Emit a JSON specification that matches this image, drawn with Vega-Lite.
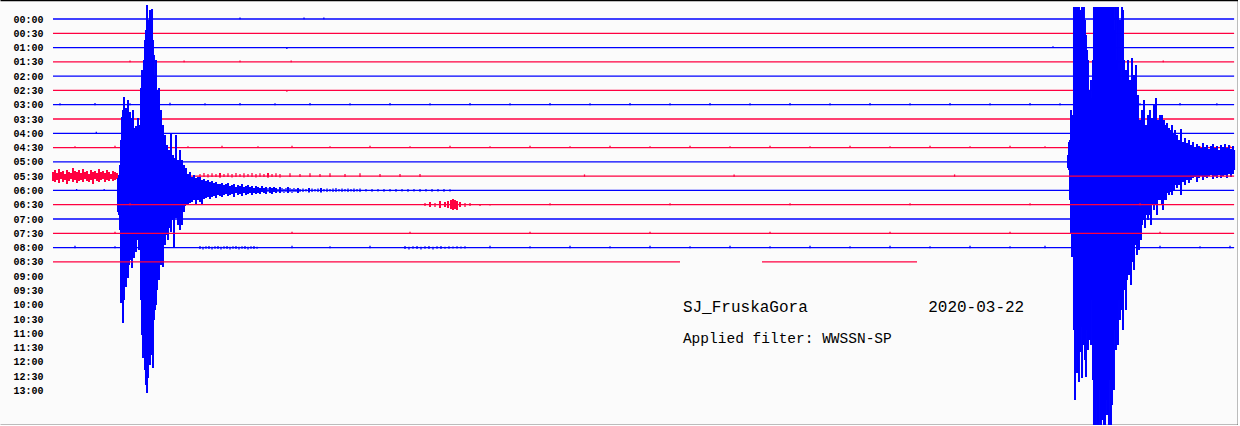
{
"$schema":"https://vega.github.io/schema/vega-lite/v6.json",
"width":1238,"height":425,"padding":0,"autosize":{"type":"none"},
"background":"#fbfbfb",
"config":{"view":{"stroke":null}},
"layer":[
{"data":{"values":[
{"row":0,"t":0,"t2":30,"v":0,"v2":0},
{"row":0,"t":4.75,"t2":4.75,"v":-0.1,"v2":0.02},
{"row":0,"t":6.376,"t2":6.376,"v":-0.1,"v2":0.02},
{"row":0,"t":6.88,"t2":6.88,"v":-0.1,"v2":0.02},
{"row":1,"t":0,"t2":30,"v":1,"v2":1},
{"row":2,"t":0,"t2":30,"v":2,"v2":2},
{"row":2,"t":5.94,"t2":5.94,"v":2,"v2":2.1},
{"row":2,"t":25.4,"t2":25.4,"v":1.9,"v2":2.02},
{"row":3,"t":0,"t2":30,"v":3,"v2":3},
{"row":3,"t":1.956,"t2":1.956,"v":2.9,"v2":3.02},
{"row":3,"t":3.33,"t2":3.33,"v":2.9,"v2":3.02},
{"row":3,"t":4.75,"t2":4.75,"v":2.9,"v2":3.02},
{"row":3,"t":6.05,"t2":6.05,"v":2.9,"v2":3.02},
{"row":3,"t":28.2,"t2":28.2,"v":2.9,"v2":3.02},
{"row":4,"t":0,"t2":30,"v":4,"v2":4},
{"row":5,"t":0,"t2":30,"v":5,"v2":5},
{"row":5,"t":5.94,"t2":5.94,"v":5,"v2":5.1},
{"row":6,"t":0,"t2":30,"v":6,"v2":6},
{"row":6,"t":0.178,"t2":0.178,"v":5.9,"v2":6.04},
{"row":6,"t":1.067,"t2":1.067,"v":5.88,"v2":6.03},
{"row":6,"t":1.956,"t2":1.956,"v":5.9,"v2":6.04},
{"row":6,"t":2.972,"t2":2.972,"v":5.87,"v2":6.03},
{"row":6,"t":3.861,"t2":3.861,"v":5.9,"v2":6.04},
{"row":6,"t":4.75,"t2":4.75,"v":5.88,"v2":6.03},
{"row":6,"t":5.639,"t2":5.639,"v":5.9,"v2":6.04},
{"row":6,"t":6.528,"t2":6.528,"v":5.88,"v2":6.03},
{"row":6,"t":7.544,"t2":7.544,"v":5.9,"v2":6.04},
{"row":6,"t":8.56,"t2":8.56,"v":5.88,"v2":6.03},
{"row":6,"t":9.576,"t2":9.576,"v":5.9,"v2":6.04},
{"row":6,"t":10.592,"t2":10.592,"v":5.88,"v2":6.03},
{"row":6,"t":11.608,"t2":11.608,"v":5.9,"v2":6.04},
{"row":6,"t":12.624,"t2":12.624,"v":5.88,"v2":6.03},
{"row":6,"t":13.64,"t2":13.64,"v":5.9,"v2":6.04},
{"row":6,"t":14.656,"t2":14.656,"v":5.88,"v2":6.03},
{"row":6,"t":15.672,"t2":15.672,"v":5.9,"v2":6.04},
{"row":6,"t":16.688,"t2":16.688,"v":5.88,"v2":6.03},
{"row":6,"t":17.704,"t2":17.704,"v":5.9,"v2":6.04},
{"row":6,"t":18.72,"t2":18.72,"v":5.88,"v2":6.03},
{"row":6,"t":19.736,"t2":19.736,"v":5.9,"v2":6.04},
{"row":6,"t":20.752,"t2":20.752,"v":5.88,"v2":6.03},
{"row":6,"t":21.768,"t2":21.768,"v":5.9,"v2":6.04},
{"row":6,"t":22.784,"t2":22.784,"v":5.88,"v2":6.03},
{"row":6,"t":23.8,"t2":23.8,"v":5.9,"v2":6.04},
{"row":6,"t":24.816,"t2":24.816,"v":5.88,"v2":6.03},
{"row":6,"t":25.578,"t2":25.578,"v":5.9,"v2":6.04},
{"row":6,"t":26.594,"t2":26.594,"v":5.88,"v2":6.03},
{"row":6,"t":27.61,"t2":27.61,"v":5.9,"v2":6.04},
{"row":6,"t":28.626,"t2":28.626,"v":5.88,"v2":6.03},
{"row":6,"t":29.562,"t2":29.562,"v":5.9,"v2":6.04},
{"row":7,"t":0,"t2":30,"v":7,"v2":7},
{"row":8,"t":0,"t2":30,"v":8,"v2":8},
{"row":8,"t":1.1,"t2":1.1,"v":7.9,"v2":8.02},
{"row":9,"t":0,"t2":30,"v":9,"v2":9},
{"row":9,"t":0.559,"t2":0.559,"v":8.9,"v2":9.03},
{"row":9,"t":1.575,"t2":1.575,"v":8.88,"v2":9.03},
{"row":9,"t":3.429,"t2":3.429,"v":8.9,"v2":9.03},
{"row":9,"t":4.293,"t2":4.293,"v":8.88,"v2":9.03},
{"row":9,"t":5.207,"t2":5.207,"v":8.9,"v2":9.03},
{"row":9,"t":6.071,"t2":6.071,"v":8.88,"v2":9.03},
{"row":9,"t":7.036,"t2":7.036,"v":8.9,"v2":9.03},
{"row":9,"t":8.052,"t2":8.052,"v":8.88,"v2":9.03},
{"row":9,"t":9.068,"t2":9.068,"v":8.9,"v2":9.03},
{"row":9,"t":10.084,"t2":10.084,"v":8.88,"v2":9.03},
{"row":9,"t":11.1,"t2":11.1,"v":8.9,"v2":9.03},
{"row":9,"t":12.116,"t2":12.116,"v":8.88,"v2":9.03},
{"row":9,"t":13.132,"t2":13.132,"v":8.9,"v2":9.03},
{"row":9,"t":14.148,"t2":14.148,"v":8.88,"v2":9.03},
{"row":9,"t":15.164,"t2":15.164,"v":8.9,"v2":9.03},
{"row":9,"t":16.18,"t2":16.18,"v":8.88,"v2":9.03},
{"row":9,"t":17.196,"t2":17.196,"v":8.9,"v2":9.03},
{"row":9,"t":18.212,"t2":18.212,"v":8.88,"v2":9.03},
{"row":9,"t":19.228,"t2":19.228,"v":8.9,"v2":9.03},
{"row":9,"t":20.244,"t2":20.244,"v":8.88,"v2":9.03},
{"row":9,"t":21.26,"t2":21.26,"v":8.9,"v2":9.03},
{"row":9,"t":22.276,"t2":22.276,"v":8.88,"v2":9.03},
{"row":9,"t":23.292,"t2":23.292,"v":8.9,"v2":9.03},
{"row":9,"t":24.308,"t2":24.308,"v":8.88,"v2":9.03},
{"row":9,"t":25.197,"t2":25.197,"v":8.9,"v2":9.03},
{"row":9,"t":28.118,"t2":28.118,"v":8.88,"v2":9.03},
{"row":9,"t":29.134,"t2":29.134,"v":8.9,"v2":9.03},
{"row":9,"t":29.896,"t2":29.896,"v":8.88,"v2":9.03},
{"row":10,"t":0,"t2":30,"v":10,"v2":10},
{"row":10,"t":25.781,"t2":25.781,"v":9.52,"v2":10.43},
{"row":10,"t":25.806,"t2":25.806,"v":8.61,"v2":10.57},
{"row":10,"t":25.832,"t2":25.832,"v":8.47,"v2":12.67},
{"row":10,"t":25.857,"t2":25.857,"v":6.37,"v2":14.98},
{"row":10,"t":25.883,"t2":25.883,"v":7.07,"v2":16.66},
{"row":10,"t":25.908,"t2":25.908,"v":6.72,"v2":15.47},
{"row":10,"t":25.933,"t2":25.933,"v":-0.84,"v2":21.77},
{"row":10,"t":25.959,"t2":25.959,"v":-0.84,"v2":26.67},
{"row":10,"t":25.984,"t2":25.984,"v":-0.84,"v2":21.77},
{"row":10,"t":26.01,"t2":26.01,"v":-0.84,"v2":24.78},
{"row":10,"t":26.035,"t2":26.035,"v":-0.84,"v2":23.87},
{"row":10,"t":26.06,"t2":26.06,"v":-0.84,"v2":25.41},
{"row":10,"t":26.086,"t2":26.086,"v":-0.63,"v2":23.31},
{"row":10,"t":26.111,"t2":26.111,"v":-0.28,"v2":21.56},
{"row":10,"t":26.137,"t2":26.137,"v":-0.84,"v2":25.13},
{"row":10,"t":26.162,"t2":26.162,"v":-0.49,"v2":22.47},
{"row":10,"t":26.187,"t2":26.187,"v":-0.84,"v2":22.82},
{"row":10,"t":26.213,"t2":26.213,"v":0.07,"v2":23.87},
{"row":10,"t":26.238,"t2":26.238,"v":1.12,"v2":25.06},
{"row":10,"t":26.264,"t2":26.264,"v":2.17,"v2":21.77},
{"row":10,"t":26.289,"t2":26.289,"v":2.87,"v2":23.17},
{"row":10,"t":26.314,"t2":26.314,"v":4.97,"v2":22.47},
{"row":10,"t":26.34,"t2":26.34,"v":5.67,"v2":21.07},
{"row":10,"t":26.365,"t2":26.365,"v":4.27,"v2":22.82},
{"row":10,"t":26.391,"t2":26.391,"v":5.53,"v2":19.67},
{"row":10,"t":26.416,"t2":26.416,"v":2.87,"v2":25.27},
{"row":10,"t":26.441,"t2":26.441,"v":-0.84,"v2":28.42},
{"row":10,"t":26.467,"t2":26.467,"v":-0.84,"v2":28.42},
{"row":10,"t":26.492,"t2":26.492,"v":-0.84,"v2":26.67},
{"row":10,"t":26.518,"t2":26.518,"v":-0.84,"v2":28.42},
{"row":10,"t":26.543,"t2":26.543,"v":-0.84,"v2":27.37},
{"row":10,"t":26.568,"t2":26.568,"v":-0.84,"v2":28.42},
{"row":10,"t":26.594,"t2":26.594,"v":-0.84,"v2":25.97},
{"row":10,"t":26.619,"t2":26.619,"v":-0.84,"v2":28.42},
{"row":10,"t":26.645,"t2":26.645,"v":-0.84,"v2":28.07},
{"row":10,"t":26.67,"t2":26.67,"v":-0.84,"v2":25.27},
{"row":10,"t":26.695,"t2":26.695,"v":-0.84,"v2":28.42},
{"row":10,"t":26.721,"t2":26.721,"v":-0.84,"v2":28.42},
{"row":10,"t":26.746,"t2":26.746,"v":-0.84,"v2":26.67},
{"row":10,"t":26.772,"t2":26.772,"v":-0.84,"v2":27.72},
{"row":10,"t":26.797,"t2":26.797,"v":-0.84,"v2":25.62},
{"row":10,"t":26.822,"t2":26.822,"v":-0.84,"v2":28.42},
{"row":10,"t":26.848,"t2":26.848,"v":-0.84,"v2":25.27},
{"row":10,"t":26.873,"t2":26.873,"v":-0.84,"v2":28.42},
{"row":10,"t":26.899,"t2":26.899,"v":-0.84,"v2":27.02},
{"row":10,"t":26.924,"t2":26.924,"v":-0.84,"v2":23.87},
{"row":10,"t":26.949,"t2":26.949,"v":-0.84,"v2":25.97},
{"row":10,"t":26.975,"t2":26.975,"v":0.77,"v2":21.77},
{"row":10,"t":27.0,"t2":27.0,"v":-0.84,"v2":23.17},
{"row":10,"t":27.026,"t2":27.026,"v":2.87,"v2":21.07},
{"row":10,"t":27.051,"t2":27.051,"v":-0.84,"v2":22.82},
{"row":10,"t":27.076,"t2":27.076,"v":3.57,"v2":19.67},
{"row":10,"t":27.102,"t2":27.102,"v":0.07,"v2":21.07},
{"row":10,"t":27.127,"t2":27.127,"v":4.27,"v2":20.37},
{"row":10,"t":27.153,"t2":27.153,"v":-0.84,"v2":19.67},
{"row":10,"t":27.178,"t2":27.178,"v":-0.63,"v2":21.77},
{"row":10,"t":27.203,"t2":27.203,"v":2.87,"v2":18.97},
{"row":10,"t":27.229,"t2":27.229,"v":4.97,"v2":18.62},
{"row":10,"t":27.254,"t2":27.254,"v":3.57,"v2":20.37},
{"row":10,"t":27.28,"t2":27.28,"v":5.67,"v2":18.27},
{"row":10,"t":27.305,"t2":27.305,"v":2.87,"v2":17.22},
{"row":10,"t":27.33,"t2":27.33,"v":6.37,"v2":17.92},
{"row":10,"t":27.356,"t2":27.356,"v":4.27,"v2":16.52},
{"row":10,"t":27.381,"t2":27.381,"v":7.07,"v2":18.62},
{"row":10,"t":27.407,"t2":27.407,"v":2.73,"v2":17.01},
{"row":10,"t":27.432,"t2":27.432,"v":5.67,"v2":16.17},
{"row":10,"t":27.457,"t2":27.457,"v":3.92,"v2":17.57},
{"row":10,"t":27.483,"t2":27.483,"v":7.42,"v2":15.82},
{"row":10,"t":27.508,"t2":27.508,"v":3.22,"v2":15.47},
{"row":10,"t":27.534,"t2":27.534,"v":6.37,"v2":16.52},
{"row":10,"t":27.559,"t2":27.559,"v":5.32,"v2":15.12},
{"row":10,"t":27.584,"t2":27.584,"v":7.77,"v2":16.17},
{"row":10,"t":27.61,"t2":27.61,"v":7.07,"v2":14.77},
{"row":10,"t":27.635,"t2":27.635,"v":8.47,"v2":15.47},
{"row":10,"t":27.661,"t2":27.661,"v":6.37,"v2":14.42},
{"row":10,"t":27.686,"t2":27.686,"v":7.77,"v2":14.07},
{"row":10,"t":27.711,"t2":27.711,"v":5.67,"v2":13.72},
{"row":10,"t":27.737,"t2":27.737,"v":8.12,"v2":14.63},
{"row":10,"t":27.762,"t2":27.762,"v":7.42,"v2":13.72},
{"row":10,"t":27.788,"t2":27.788,"v":8.47,"v2":13.37},
{"row":10,"t":27.813,"t2":27.813,"v":6.72,"v2":14.07},
{"row":10,"t":27.838,"t2":27.838,"v":8.12,"v2":13.02},
{"row":10,"t":27.864,"t2":27.864,"v":6.37,"v2":13.72},
{"row":10,"t":27.889,"t2":27.889,"v":7.42,"v2":14.42},
{"row":10,"t":27.915,"t2":27.915,"v":6.93,"v2":13.02},
{"row":10,"t":27.94,"t2":27.94,"v":7.77,"v2":12.67},
{"row":10,"t":27.965,"t2":27.965,"v":6.02,"v2":13.37},
{"row":10,"t":27.991,"t2":27.991,"v":7.07,"v2":12.53},
{"row":10,"t":28.016,"t2":28.016,"v":5.53,"v2":13.02},
{"row":10,"t":28.042,"t2":28.042,"v":7.42,"v2":13.72},
{"row":10,"t":28.067,"t2":28.067,"v":7.07,"v2":12.67},
{"row":10,"t":28.092,"t2":28.092,"v":8.12,"v2":12.32},
{"row":10,"t":28.118,"t2":28.118,"v":6.72,"v2":12.67},
{"row":10,"t":28.143,"t2":28.143,"v":8.33,"v2":12.11},
{"row":10,"t":28.169,"t2":28.169,"v":6.72,"v2":13.02},
{"row":10,"t":28.194,"t2":28.194,"v":7.42,"v2":13.37},
{"row":10,"t":28.219,"t2":28.219,"v":7.07,"v2":12.67},
{"row":10,"t":28.245,"t2":28.245,"v":7.77,"v2":12.32},
{"row":10,"t":28.27,"t2":28.27,"v":7.42,"v2":12.67},
{"row":10,"t":28.296,"t2":28.296,"v":7.28,"v2":12.18},
{"row":10,"t":28.321,"t2":28.321,"v":7.77,"v2":11.97},
{"row":10,"t":28.346,"t2":28.346,"v":7.63,"v2":12.32},
{"row":10,"t":28.372,"t2":28.372,"v":8.12,"v2":12.11},
{"row":10,"t":28.397,"t2":28.397,"v":7.77,"v2":11.83},
{"row":10,"t":28.423,"t2":28.423,"v":7.42,"v2":12.32},
{"row":10,"t":28.448,"t2":28.448,"v":8.33,"v2":11.69},
{"row":10,"t":28.473,"t2":28.473,"v":7.98,"v2":11.97},
{"row":10,"t":28.499,"t2":28.499,"v":7.77,"v2":11.62},
{"row":10,"t":28.55,"t2":28.55,"v":8.12,"v2":11.83},
{"row":10,"t":28.6,"t2":28.6,"v":8.47,"v2":11.62},
{"row":10,"t":28.651,"t2":28.651,"v":7.7,"v2":12.32},
{"row":10,"t":28.702,"t2":28.702,"v":8.61,"v2":11.41},
{"row":10,"t":28.753,"t2":28.753,"v":8.33,"v2":11.62},
{"row":10,"t":28.804,"t2":28.804,"v":8.68,"v2":11.27},
{"row":10,"t":28.854,"t2":28.854,"v":8.47,"v2":11.48},
{"row":10,"t":28.905,"t2":28.905,"v":8.82,"v2":11.27},
{"row":10,"t":28.956,"t2":28.956,"v":8.61,"v2":11.13},
{"row":10,"t":29.007,"t2":29.007,"v":8.96,"v2":11.06},
{"row":10,"t":29.058,"t2":29.058,"v":8.75,"v2":11.41},
{"row":10,"t":29.108,"t2":29.108,"v":8.89,"v2":11.13},
{"row":10,"t":29.159,"t2":29.159,"v":9.03,"v2":10.99},
{"row":10,"t":29.21,"t2":29.21,"v":8.68,"v2":11.27},
{"row":10,"t":29.261,"t2":29.261,"v":8.96,"v2":11.06},
{"row":10,"t":29.312,"t2":29.312,"v":8.82,"v2":11.13},
{"row":10,"t":29.362,"t2":29.362,"v":9.1,"v2":10.99},
{"row":10,"t":29.413,"t2":29.413,"v":8.89,"v2":10.92},
{"row":10,"t":29.464,"t2":29.464,"v":8.75,"v2":11.2},
{"row":10,"t":29.515,"t2":29.515,"v":9.03,"v2":10.99},
{"row":10,"t":29.566,"t2":29.566,"v":8.89,"v2":11.13},
{"row":10,"t":29.616,"t2":29.616,"v":9.17,"v2":10.92},
{"row":10,"t":29.667,"t2":29.667,"v":8.82,"v2":11.13},
{"row":10,"t":29.718,"t2":29.718,"v":8.96,"v2":10.99},
{"row":10,"t":29.769,"t2":29.769,"v":8.75,"v2":10.92},
{"row":10,"t":29.82,"t2":29.82,"v":9.03,"v2":11.13},
{"row":10,"t":29.87,"t2":29.87,"v":8.82,"v2":10.85},
{"row":10,"t":29.921,"t2":29.921,"v":9.1,"v2":11.06},
{"row":10,"t":29.972,"t2":29.972,"v":8.89,"v2":10.85},
{"row":10,"t":30.0,"t2":30.0,"v":9.17,"v2":10.57},
{"row":11,"t":0,"t2":30,"v":11,"v2":11},
{"row":11,"t":0.0,"t2":0.0,"v":10.71,"v2":11.34},
{"row":11,"t":0.051,"t2":0.051,"v":10.57,"v2":11.41},
{"row":11,"t":0.102,"t2":0.102,"v":10.78,"v2":11.27},
{"row":11,"t":0.152,"t2":0.152,"v":10.5,"v2":11.48},
{"row":11,"t":0.203,"t2":0.203,"v":10.71,"v2":11.2},
{"row":11,"t":0.254,"t2":0.254,"v":10.64,"v2":11.41},
{"row":11,"t":0.305,"t2":0.305,"v":10.85,"v2":11.27},
{"row":11,"t":0.356,"t2":0.356,"v":10.57,"v2":11.55},
{"row":11,"t":0.406,"t2":0.406,"v":10.71,"v2":11.34},
{"row":11,"t":0.457,"t2":0.457,"v":10.78,"v2":11.2},
{"row":11,"t":0.508,"t2":0.508,"v":10.43,"v2":11.41},
{"row":11,"t":0.559,"t2":0.559,"v":10.64,"v2":11.27},
{"row":11,"t":0.61,"t2":0.61,"v":10.71,"v2":11.48},
{"row":11,"t":0.66,"t2":0.66,"v":10.57,"v2":11.34},
{"row":11,"t":0.711,"t2":0.711,"v":10.78,"v2":11.27},
{"row":11,"t":0.762,"t2":0.762,"v":10.5,"v2":11.41},
{"row":11,"t":0.813,"t2":0.813,"v":10.71,"v2":11.2},
{"row":11,"t":0.864,"t2":0.864,"v":10.64,"v2":11.34},
{"row":11,"t":0.914,"t2":0.914,"v":10.85,"v2":11.41},
{"row":11,"t":0.965,"t2":0.965,"v":10.57,"v2":11.27},
{"row":11,"t":1.016,"t2":1.016,"v":10.71,"v2":11.55},
{"row":11,"t":1.067,"t2":1.067,"v":10.64,"v2":11.2},
{"row":11,"t":1.118,"t2":1.118,"v":10.78,"v2":11.34},
{"row":11,"t":1.168,"t2":1.168,"v":10.5,"v2":11.41},
{"row":11,"t":1.219,"t2":1.219,"v":10.71,"v2":11.27},
{"row":11,"t":1.27,"t2":1.27,"v":10.64,"v2":11.2},
{"row":11,"t":1.321,"t2":1.321,"v":10.78,"v2":11.41},
{"row":11,"t":1.372,"t2":1.372,"v":10.57,"v2":11.27},
{"row":11,"t":1.422,"t2":1.422,"v":10.71,"v2":11.34},
{"row":11,"t":1.473,"t2":1.473,"v":10.85,"v2":11.2},
{"row":11,"t":1.524,"t2":1.524,"v":10.64,"v2":11.34},
{"row":11,"t":1.575,"t2":1.575,"v":10.71,"v2":11.27},
{"row":11,"t":1.626,"t2":1.626,"v":10.78,"v2":11.2},
{"row":11,"t":3.734,"t2":3.734,"v":10.85,"v2":11.06},
{"row":11,"t":3.835,"t2":3.835,"v":10.78,"v2":11.06},
{"row":11,"t":3.937,"t2":3.937,"v":10.85,"v2":11.1},
{"row":11,"t":4.039,"t2":4.039,"v":10.8,"v2":11.06},
{"row":11,"t":4.14,"t2":4.14,"v":10.85,"v2":11.06},
{"row":11,"t":4.242,"t2":4.242,"v":10.78,"v2":11.1},
{"row":11,"t":4.343,"t2":4.343,"v":10.85,"v2":11.06},
{"row":11,"t":4.445,"t2":4.445,"v":10.8,"v2":11.06},
{"row":11,"t":4.547,"t2":4.547,"v":10.85,"v2":11.1},
{"row":11,"t":4.648,"t2":4.648,"v":10.78,"v2":11.06},
{"row":11,"t":4.75,"t2":4.75,"v":10.85,"v2":11.06},
{"row":11,"t":4.851,"t2":4.851,"v":10.8,"v2":11.1},
{"row":11,"t":4.953,"t2":4.953,"v":10.85,"v2":11.06},
{"row":11,"t":5.055,"t2":5.055,"v":10.78,"v2":11.06},
{"row":11,"t":5.156,"t2":5.156,"v":10.85,"v2":11.1},
{"row":11,"t":5.258,"t2":5.258,"v":10.8,"v2":11.06},
{"row":11,"t":5.359,"t2":5.359,"v":10.85,"v2":11.06},
{"row":11,"t":5.461,"t2":5.461,"v":10.78,"v2":11.1},
{"row":11,"t":5.563,"t2":5.563,"v":10.85,"v2":11.06},
{"row":11,"t":5.664,"t2":5.664,"v":10.8,"v2":11.06},
{"row":11,"t":5.766,"t2":5.766,"v":10.85,"v2":11.1},
{"row":11,"t":6.02,"t2":6.02,"v":10.8,"v2":11.06},
{"row":11,"t":6.274,"t2":6.274,"v":10.85,"v2":11.06},
{"row":11,"t":6.528,"t2":6.528,"v":10.8,"v2":11.06},
{"row":11,"t":6.782,"t2":6.782,"v":10.85,"v2":11.06},
{"row":11,"t":7.036,"t2":7.036,"v":10.8,"v2":11.06},
{"row":11,"t":7.417,"t2":7.417,"v":10.85,"v2":11.06},
{"row":11,"t":7.798,"t2":7.798,"v":10.8,"v2":11.06},
{"row":11,"t":8.306,"t2":8.306,"v":10.85,"v2":11.06},
{"row":11,"t":8.814,"t2":8.814,"v":10.85,"v2":11.06},
{"row":11,"t":9.322,"t2":9.322,"v":10.85,"v2":11.06},
{"row":11,"t":13.5,"t2":13.5,"v":10.88,"v2":11.04},
{"row":11,"t":17.3,"t2":17.3,"v":10.88,"v2":11.04},
{"row":11,"t":22.9,"t2":22.9,"v":10.88,"v2":11.04},
{"row":12,"t":0,"t2":30,"v":12,"v2":12},
{"row":12,"t":0.6,"t2":0.6,"v":11.9,"v2":12.04},
{"row":12,"t":1.3,"t2":1.3,"v":11.9,"v2":12.04},
{"row":12,"t":1.651,"t2":1.651,"v":11.13,"v2":13.51},
{"row":12,"t":1.676,"t2":1.676,"v":10.92,"v2":13.72},
{"row":12,"t":1.702,"t2":1.702,"v":10.22,"v2":14.77},
{"row":12,"t":1.727,"t2":1.727,"v":8.47,"v2":19.88},
{"row":12,"t":1.753,"t2":1.753,"v":6.86,"v2":18.27},
{"row":12,"t":1.778,"t2":1.778,"v":6.37,"v2":21.28},
{"row":12,"t":1.803,"t2":1.803,"v":5.46,"v2":19.67},
{"row":12,"t":1.829,"t2":1.829,"v":6.72,"v2":17.57},
{"row":12,"t":1.854,"t2":1.854,"v":6.23,"v2":18.76},
{"row":12,"t":1.88,"t2":1.88,"v":7.07,"v2":17.01},
{"row":12,"t":1.905,"t2":1.905,"v":5.67,"v2":18.13},
{"row":12,"t":1.93,"t2":1.93,"v":7.42,"v2":17.22},
{"row":12,"t":1.956,"t2":1.956,"v":6.51,"v2":16.87},
{"row":12,"t":1.981,"t2":1.981,"v":6.93,"v2":16.52},
{"row":12,"t":2.007,"t2":2.007,"v":7.77,"v2":17.43},
{"row":12,"t":2.032,"t2":2.032,"v":6.37,"v2":16.17},
{"row":12,"t":2.057,"t2":2.057,"v":7.63,"v2":16.73},
{"row":12,"t":2.083,"t2":2.083,"v":8.12,"v2":15.82},
{"row":12,"t":2.108,"t2":2.108,"v":7.49,"v2":16.31},
{"row":12,"t":2.134,"t2":2.134,"v":8.47,"v2":15.33},
{"row":12,"t":2.159,"t2":2.159,"v":6.93,"v2":15.47},
{"row":12,"t":2.184,"t2":2.184,"v":7.91,"v2":16.17},
{"row":12,"t":2.21,"t2":2.21,"v":7.42,"v2":15.82},
{"row":12,"t":2.235,"t2":2.235,"v":4.83,"v2":19.67},
{"row":12,"t":2.261,"t2":2.261,"v":3.57,"v2":22.12},
{"row":12,"t":2.286,"t2":2.286,"v":4.27,"v2":23.73},
{"row":12,"t":2.311,"t2":2.311,"v":2.87,"v2":22.82},
{"row":12,"t":2.337,"t2":2.337,"v":1.47,"v2":24.57},
{"row":12,"t":2.362,"t2":2.362,"v":0.77,"v2":25.62},
{"row":12,"t":2.388,"t2":2.388,"v":-0.98,"v2":26.18},
{"row":12,"t":2.413,"t2":2.413,"v":0.07,"v2":25.13},
{"row":12,"t":2.438,"t2":2.438,"v":1.12,"v2":23.87},
{"row":12,"t":2.464,"t2":2.464,"v":-0.63,"v2":24.22},
{"row":12,"t":2.489,"t2":2.489,"v":0.42,"v2":23.52},
{"row":12,"t":2.515,"t2":2.515,"v":-0.7,"v2":23.17},
{"row":12,"t":2.54,"t2":2.54,"v":1.47,"v2":24.43},
{"row":12,"t":2.565,"t2":2.565,"v":2.52,"v2":21.07},
{"row":12,"t":2.591,"t2":2.591,"v":3.92,"v2":20.37},
{"row":12,"t":2.616,"t2":2.616,"v":2.87,"v2":20.02},
{"row":12,"t":2.642,"t2":2.642,"v":4.97,"v2":18.97},
{"row":12,"t":2.667,"t2":2.667,"v":5.67,"v2":17.57},
{"row":12,"t":2.692,"t2":2.692,"v":4.83,"v2":18.27},
{"row":12,"t":2.718,"t2":2.718,"v":7.07,"v2":16.87},
{"row":12,"t":2.743,"t2":2.743,"v":6.37,"v2":17.22},
{"row":12,"t":2.769,"t2":2.769,"v":7.63,"v2":16.17},
{"row":12,"t":2.794,"t2":2.794,"v":7.42,"v2":17.36},
{"row":12,"t":2.819,"t2":2.819,"v":8.47,"v2":15.47},
{"row":12,"t":2.845,"t2":2.845,"v":8.12,"v2":15.82},
{"row":12,"t":2.87,"t2":2.87,"v":9.17,"v2":15.12},
{"row":12,"t":2.896,"t2":2.896,"v":8.82,"v2":14.91},
{"row":12,"t":2.921,"t2":2.921,"v":9.52,"v2":15.47},
{"row":12,"t":2.946,"t2":2.946,"v":9.17,"v2":14.63},
{"row":12,"t":2.972,"t2":2.972,"v":9.73,"v2":14.42},
{"row":12,"t":2.997,"t2":2.997,"v":8.05,"v2":14.91},
{"row":12,"t":3.023,"t2":3.023,"v":9.87,"v2":14.07},
{"row":12,"t":3.048,"t2":3.048,"v":9.52,"v2":13.72},
{"row":12,"t":3.073,"t2":3.073,"v":10.01,"v2":16.03},
{"row":12,"t":3.099,"t2":3.099,"v":9.73,"v2":13.51},
{"row":12,"t":3.124,"t2":3.124,"v":8.12,"v2":13.93},
{"row":12,"t":3.15,"t2":3.15,"v":10.08,"v2":13.58},
{"row":12,"t":3.175,"t2":3.175,"v":9.87,"v2":14.42},
{"row":12,"t":3.2,"t2":3.2,"v":10.22,"v2":13.37},
{"row":12,"t":3.226,"t2":3.226,"v":9.17,"v2":14.77},
{"row":12,"t":3.251,"t2":3.251,"v":10.43,"v2":13.23},
{"row":12,"t":3.277,"t2":3.277,"v":9.87,"v2":14.42},
{"row":12,"t":3.302,"t2":3.302,"v":10.57,"v2":13.02},
{"row":12,"t":3.327,"t2":3.327,"v":10.22,"v2":13.51},
{"row":12,"t":3.353,"t2":3.353,"v":10.71,"v2":13.09},
{"row":12,"t":3.378,"t2":3.378,"v":10.43,"v2":13.02},
{"row":12,"t":3.429,"t2":3.429,"v":10.85,"v2":13.02},
{"row":12,"t":3.48,"t2":3.48,"v":10.71,"v2":12.88},
{"row":12,"t":3.531,"t2":3.531,"v":11.06,"v2":12.81},
{"row":12,"t":3.581,"t2":3.581,"v":10.92,"v2":12.67},
{"row":12,"t":3.632,"t2":3.632,"v":11.13,"v2":13.02},
{"row":12,"t":3.683,"t2":3.683,"v":11.06,"v2":12.67},
{"row":12,"t":3.734,"t2":3.734,"v":11.06,"v2":12.81},
{"row":12,"t":3.785,"t2":3.785,"v":11.27,"v2":13.02},
{"row":12,"t":3.835,"t2":3.835,"v":11.2,"v2":12.6},
{"row":12,"t":3.886,"t2":3.886,"v":11.34,"v2":12.53},
{"row":12,"t":3.937,"t2":3.937,"v":11.27,"v2":12.46},
{"row":12,"t":3.988,"t2":3.988,"v":11.41,"v2":12.6},
{"row":12,"t":4.039,"t2":4.039,"v":11.34,"v2":12.46},
{"row":12,"t":4.089,"t2":4.089,"v":11.48,"v2":12.39},
{"row":12,"t":4.14,"t2":4.14,"v":11.41,"v2":12.53},
{"row":12,"t":4.191,"t2":4.191,"v":11.55,"v2":12.32},
{"row":12,"t":4.242,"t2":4.242,"v":11.55,"v2":12.39},
{"row":12,"t":4.293,"t2":4.293,"v":11.48,"v2":12.46},
{"row":12,"t":4.343,"t2":4.343,"v":11.62,"v2":12.32},
{"row":12,"t":4.394,"t2":4.394,"v":11.55,"v2":12.25},
{"row":12,"t":4.445,"t2":4.445,"v":11.48,"v2":12.39},
{"row":12,"t":4.496,"t2":4.496,"v":11.69,"v2":12.32},
{"row":12,"t":4.547,"t2":4.547,"v":11.62,"v2":12.25},
{"row":12,"t":4.597,"t2":4.597,"v":11.55,"v2":12.46},
{"row":12,"t":4.648,"t2":4.648,"v":11.76,"v2":12.18},
{"row":12,"t":4.699,"t2":4.699,"v":11.62,"v2":12.32},
{"row":12,"t":4.75,"t2":4.75,"v":11.69,"v2":12.25},
{"row":12,"t":4.801,"t2":4.801,"v":11.55,"v2":12.39},
{"row":12,"t":4.851,"t2":4.851,"v":11.76,"v2":12.18},
{"row":12,"t":4.902,"t2":4.902,"v":11.69,"v2":12.32},
{"row":12,"t":4.953,"t2":4.953,"v":11.62,"v2":12.25},
{"row":12,"t":5.004,"t2":5.004,"v":11.76,"v2":12.18},
{"row":12,"t":5.055,"t2":5.055,"v":11.69,"v2":12.32},
{"row":12,"t":5.105,"t2":5.105,"v":11.83,"v2":12.18},
{"row":12,"t":5.156,"t2":5.156,"v":11.69,"v2":12.25},
{"row":12,"t":5.207,"t2":5.207,"v":11.76,"v2":12.18},
{"row":12,"t":5.258,"t2":5.258,"v":11.83,"v2":12.25},
{"row":12,"t":5.309,"t2":5.309,"v":11.69,"v2":12.11},
{"row":12,"t":5.359,"t2":5.359,"v":11.83,"v2":12.18},
{"row":12,"t":5.41,"t2":5.41,"v":11.76,"v2":12.25},
{"row":12,"t":5.461,"t2":5.461,"v":11.83,"v2":12.11},
{"row":12,"t":5.512,"t2":5.512,"v":11.76,"v2":12.18},
{"row":12,"t":5.563,"t2":5.563,"v":11.83,"v2":12.25},
{"row":12,"t":5.613,"t2":5.613,"v":11.76,"v2":12.11},
{"row":12,"t":5.664,"t2":5.664,"v":11.83,"v2":12.18},
{"row":12,"t":5.715,"t2":5.715,"v":11.9,"v2":12.11},
{"row":12,"t":5.766,"t2":5.766,"v":11.76,"v2":12.18},
{"row":12,"t":5.817,"t2":5.817,"v":11.83,"v2":12.11},
{"row":12,"t":5.867,"t2":5.867,"v":11.9,"v2":12.18},
{"row":12,"t":5.918,"t2":5.918,"v":11.83,"v2":12.11},
{"row":12,"t":5.969,"t2":5.969,"v":11.76,"v2":12.18},
{"row":12,"t":6.02,"t2":6.02,"v":11.83,"v2":12.11},
{"row":12,"t":6.071,"t2":6.071,"v":11.9,"v2":12.18},
{"row":12,"t":6.121,"t2":6.121,"v":11.83,"v2":12.11},
{"row":12,"t":6.172,"t2":6.172,"v":11.9,"v2":12.11},
{"row":12,"t":6.223,"t2":6.223,"v":11.83,"v2":12.18},
{"row":12,"t":6.274,"t2":6.274,"v":11.9,"v2":12.11},
{"row":12,"t":6.35,"t2":6.35,"v":11.865,"v2":12.11},
{"row":12,"t":6.426,"t2":6.426,"v":11.9,"v2":12.075},
{"row":12,"t":6.502,"t2":6.502,"v":11.83,"v2":12.145},
{"row":12,"t":6.579,"t2":6.579,"v":11.865,"v2":12.11},
{"row":12,"t":6.655,"t2":6.655,"v":11.9,"v2":12.075},
{"row":12,"t":6.731,"t2":6.731,"v":11.865,"v2":12.11},
{"row":12,"t":6.807,"t2":6.807,"v":11.83,"v2":12.145},
{"row":12,"t":6.883,"t2":6.883,"v":11.9,"v2":12.075},
{"row":12,"t":6.96,"t2":6.96,"v":11.865,"v2":12.11},
{"row":12,"t":7.036,"t2":7.036,"v":11.9,"v2":12.075},
{"row":12,"t":7.112,"t2":7.112,"v":11.865,"v2":12.11},
{"row":12,"t":7.188,"t2":7.188,"v":11.83,"v2":12.11},
{"row":12,"t":7.264,"t2":7.264,"v":11.9,"v2":12.075},
{"row":12,"t":7.341,"t2":7.341,"v":11.865,"v2":12.11},
{"row":12,"t":7.417,"t2":7.417,"v":11.9,"v2":12.075},
{"row":12,"t":7.493,"t2":7.493,"v":11.865,"v2":12.11},
{"row":12,"t":7.569,"t2":7.569,"v":11.9,"v2":12.075},
{"row":12,"t":7.645,"t2":7.645,"v":11.865,"v2":12.11},
{"row":12,"t":7.722,"t2":7.722,"v":11.9,"v2":12.075},
{"row":12,"t":7.798,"t2":7.798,"v":11.865,"v2":12.11},
{"row":12,"t":7.95,"t2":7.95,"v":11.9,"v2":12.075},
{"row":12,"t":8.103,"t2":8.103,"v":11.9,"v2":12.1},
{"row":12,"t":8.255,"t2":8.255,"v":11.9,"v2":12.075},
{"row":12,"t":8.407,"t2":8.407,"v":11.9,"v2":12.1},
{"row":12,"t":8.56,"t2":8.56,"v":11.9,"v2":12.075},
{"row":12,"t":8.712,"t2":8.712,"v":11.9,"v2":12.1},
{"row":12,"t":8.865,"t2":8.865,"v":11.9,"v2":12.075},
{"row":12,"t":9.017,"t2":9.017,"v":11.9,"v2":12.1},
{"row":12,"t":9.169,"t2":9.169,"v":11.9,"v2":12.075},
{"row":12,"t":9.322,"t2":9.322,"v":11.9,"v2":12.1},
{"row":12,"t":9.474,"t2":9.474,"v":11.9,"v2":12.075},
{"row":12,"t":9.627,"t2":9.627,"v":11.9,"v2":12.1},
{"row":12,"t":9.779,"t2":9.779,"v":11.9,"v2":12.075},
{"row":12,"t":9.931,"t2":9.931,"v":11.9,"v2":12.1},
{"row":12,"t":10.084,"t2":10.084,"v":11.92,"v2":12.075},
{"row":13,"t":0,"t2":30,"v":13,"v2":13},
{"row":13,"t":9.449,"t2":9.449,"v":12.88,"v2":13.09},
{"row":13,"t":9.576,"t2":9.576,"v":12.81,"v2":13.16},
{"row":13,"t":9.703,"t2":9.703,"v":12.88,"v2":13.16},
{"row":13,"t":9.83,"t2":9.83,"v":12.74,"v2":13.23},
{"row":13,"t":9.957,"t2":9.957,"v":12.81,"v2":13.16},
{"row":13,"t":10.033,"t2":10.033,"v":12.74,"v2":13.23},
{"row":13,"t":10.109,"t2":10.109,"v":12.67,"v2":13.3},
{"row":13,"t":10.16,"t2":10.16,"v":12.6,"v2":13.37},
{"row":13,"t":10.211,"t2":10.211,"v":12.67,"v2":13.3},
{"row":13,"t":10.262,"t2":10.262,"v":12.74,"v2":13.37},
{"row":13,"t":10.338,"t2":10.338,"v":12.81,"v2":13.16},
{"row":13,"t":10.465,"t2":10.465,"v":12.88,"v2":13.16},
{"row":13,"t":10.592,"t2":10.592,"v":12.88,"v2":13.09},
{"row":13,"t":10.846,"t2":10.846,"v":12.95,"v2":13.09},
{"row":13,"t":11.1,"t2":11.1,"v":12.95,"v2":13.055},
{"row":13,"t":1.956,"t2":1.956,"v":12.9,"v2":13.04},
{"row":13,"t":12.624,"t2":12.624,"v":12.9,"v2":13.04},
{"row":13,"t":15.672,"t2":15.672,"v":12.9,"v2":13.04},
{"row":13,"t":18.72,"t2":18.72,"v":12.9,"v2":13.04},
{"row":13,"t":21.768,"t2":21.768,"v":12.9,"v2":13.04},
{"row":13,"t":24.816,"t2":24.816,"v":12.9,"v2":13.04},
{"row":13,"t":27.61,"t2":27.61,"v":12.9,"v2":13.04},
{"row":14,"t":0,"t2":30,"v":14,"v2":14},
{"row":15,"t":0,"t2":30,"v":15,"v2":15},
{"row":15,"t":1.575,"t2":1.575,"v":14.9,"v2":15.04},
{"row":15,"t":6.071,"t2":6.071,"v":14.9,"v2":15.04},
{"row":15,"t":9.068,"t2":9.068,"v":14.9,"v2":15.04},
{"row":15,"t":12.116,"t2":12.116,"v":14.9,"v2":15.04},
{"row":15,"t":15.164,"t2":15.164,"v":14.9,"v2":15.04},
{"row":15,"t":18.212,"t2":18.212,"v":14.9,"v2":15.04},
{"row":15,"t":21.26,"t2":21.26,"v":14.9,"v2":15.04},
{"row":15,"t":24.308,"t2":24.308,"v":14.9,"v2":15.04},
{"row":15,"t":28.118,"t2":28.118,"v":14.9,"v2":15.04},
{"row":16,"t":0,"t2":30,"v":16,"v2":16},
{"row":16,"t":0.559,"t2":0.559,"v":15.88,"v2":16.04},
{"row":16,"t":1.575,"t2":1.575,"v":15.9,"v2":16.04},
{"row":16,"t":2.464,"t2":2.464,"v":15.88,"v2":16.04},
{"row":16,"t":3.734,"t2":3.734,"v":15.89,"v2":16.1},
{"row":16,"t":3.81,"t2":3.81,"v":15.95,"v2":16.14},
{"row":16,"t":3.886,"t2":3.886,"v":15.9,"v2":16.08},
{"row":16,"t":3.962,"t2":3.962,"v":15.89,"v2":16.1},
{"row":16,"t":4.039,"t2":4.039,"v":15.95,"v2":16.14},
{"row":16,"t":4.115,"t2":4.115,"v":15.9,"v2":16.08},
{"row":16,"t":4.191,"t2":4.191,"v":15.89,"v2":16.1},
{"row":16,"t":4.267,"t2":4.267,"v":15.95,"v2":16.14},
{"row":16,"t":4.343,"t2":4.343,"v":15.9,"v2":16.08},
{"row":16,"t":4.42,"t2":4.42,"v":15.89,"v2":16.1},
{"row":16,"t":4.496,"t2":4.496,"v":15.95,"v2":16.14},
{"row":16,"t":4.572,"t2":4.572,"v":15.9,"v2":16.08},
{"row":16,"t":4.648,"t2":4.648,"v":15.89,"v2":16.1},
{"row":16,"t":4.724,"t2":4.724,"v":15.95,"v2":16.14},
{"row":16,"t":4.801,"t2":4.801,"v":15.9,"v2":16.08},
{"row":16,"t":4.877,"t2":4.877,"v":15.89,"v2":16.1},
{"row":16,"t":4.953,"t2":4.953,"v":15.95,"v2":16.14},
{"row":16,"t":5.029,"t2":5.029,"v":15.9,"v2":16.08},
{"row":16,"t":5.105,"t2":5.105,"v":15.89,"v2":16.1},
{"row":16,"t":5.182,"t2":5.182,"v":15.95,"v2":16.08},
{"row":16,"t":6.071,"t2":6.071,"v":15.88,"v2":16.04},
{"row":16,"t":7.036,"t2":7.036,"v":15.9,"v2":16.04},
{"row":16,"t":8.052,"t2":8.052,"v":15.88,"v2":16.04},
{"row":16,"t":8.941,"t2":8.941,"v":15.89,"v2":16.1},
{"row":16,"t":9.042,"t2":9.042,"v":15.95,"v2":16.14},
{"row":16,"t":9.144,"t2":9.144,"v":15.9,"v2":16.08},
{"row":16,"t":9.246,"t2":9.246,"v":15.89,"v2":16.1},
{"row":16,"t":9.347,"t2":9.347,"v":15.95,"v2":16.14},
{"row":16,"t":9.449,"t2":9.449,"v":15.9,"v2":16.08},
{"row":16,"t":9.55,"t2":9.55,"v":15.89,"v2":16.1},
{"row":16,"t":9.652,"t2":9.652,"v":15.95,"v2":16.14},
{"row":16,"t":9.754,"t2":9.754,"v":15.9,"v2":16.08},
{"row":16,"t":9.855,"t2":9.855,"v":15.89,"v2":16.1},
{"row":16,"t":9.957,"t2":9.957,"v":15.95,"v2":16.08},
{"row":16,"t":10.058,"t2":10.058,"v":15.9,"v2":16.08},
{"row":16,"t":10.16,"t2":10.16,"v":15.92,"v2":16.06},
{"row":16,"t":10.262,"t2":10.262,"v":15.9,"v2":16.06},
{"row":16,"t":10.363,"t2":10.363,"v":15.92,"v2":16.06},
{"row":16,"t":10.465,"t2":10.465,"v":15.9,"v2":16.06},
{"row":16,"t":11.1,"t2":11.1,"v":15.88,"v2":16.04},
{"row":16,"t":12.116,"t2":12.116,"v":15.9,"v2":16.04},
{"row":16,"t":13.132,"t2":13.132,"v":15.88,"v2":16.04},
{"row":16,"t":14.148,"t2":14.148,"v":15.9,"v2":16.04},
{"row":16,"t":15.164,"t2":15.164,"v":15.88,"v2":16.04},
{"row":16,"t":16.18,"t2":16.18,"v":15.9,"v2":16.04},
{"row":16,"t":17.196,"t2":17.196,"v":15.88,"v2":16.04},
{"row":16,"t":18.212,"t2":18.212,"v":15.9,"v2":16.04},
{"row":16,"t":19.228,"t2":19.228,"v":15.88,"v2":16.04},
{"row":16,"t":20.244,"t2":20.244,"v":15.9,"v2":16.04},
{"row":16,"t":21.26,"t2":21.26,"v":15.88,"v2":16.04},
{"row":16,"t":22.276,"t2":22.276,"v":15.9,"v2":16.04},
{"row":16,"t":23.292,"t2":23.292,"v":15.88,"v2":16.04},
{"row":16,"t":24.308,"t2":24.308,"v":15.9,"v2":16.04},
{"row":16,"t":25.197,"t2":25.197,"v":15.88,"v2":16.04},
{"row":16,"t":27.102,"t2":27.102,"v":15.9,"v2":16.04},
{"row":16,"t":28.118,"t2":28.118,"v":15.88,"v2":16.04},
{"row":16,"t":29.134,"t2":29.134,"v":15.9,"v2":16.04},
{"row":16,"t":29.896,"t2":29.896,"v":15.88,"v2":16.04},
{"row":17,"t":0,"t2":15.926,"v":17,"v2":17},
{"row":17,"t":18.009,"t2":21.946,"v":17,"v2":17}
]},
"mark":{"type":"rule"},
"encoding":{
"x":{"field":"t","type":"quantitative","scale":{"domain":[-1.346,30.099],"nice":false,"zero":false},
"axis":{"orient":"bottom","labels":false,"ticks":false,"grid":false,"title":null,"domainColor":"#000000","domainWidth":1.5}},
"x2":{"field":"t2"},
"y":{"field":"v","type":"quantitative","scale":{"domain":[-1.33,28.42],"reverse":true,"nice":false,"zero":false},
"axis":{"orient":"left","offset":-53,"values":[0,1,2,3,4,5,6,7,8,9,10,11,12,13,14,15,16,17,18,19,20,21,22,23,24,25,26],
"labelExpr":"pad(floor(datum.value/2)+'',2,'0','left')+':'+(datum.value%2==0?'00':'30')",
"ticks":false,"domain":false,"grid":false,"title":null,"labelPadding":10,"labelFont":"Liberation Mono","labelFontSize":10,"labelFontWeight":"bold","labelColor":"#000000","labelOverlap":false}},
"y2":{"field":"v2"},
"color":{"condition":{"test":"datum.row % 2 == 1","value":"#ff0040"},"value":"#0000ff"},
"strokeWidth":{"condition":[{"test":"datum.t != datum.t2","value":1.3},{"test":"datum.v2 - datum.v < 0.3","value":1.3}],"value":2}
}},
{"data":{"values":[
{"t":16.0,"v":20.51,"label":"SJ_FruskaGora"},
{"t":22.23,"v":20.51,"label":"2020-03-22"},
{"t":16.0,"v":22.65,"label":"Applied filter: WWSSN-SP"}
]},
"mark":{"type":"text","align":"left","baseline":"alphabetic","font":"Liberation Mono","color":"#000000"},
"encoding":{
"x":{"field":"t","type":"quantitative","scale":{"domain":[-1.346,30.099],"nice":false,"zero":false},
"axis":{"orient":"top","labels":false,"ticks":false,"grid":false,"title":null,"domainColor":"#000000","domainWidth":1.5}},
"y":{"field":"v","type":"quantitative","scale":{"domain":[-1.33,28.42],"reverse":true,"nice":false,"zero":false},
"axis":{"orient":"right","labels":false,"ticks":false,"grid":false,"title":null,"domainColor":"#000000","domainWidth":1.5}},
"text":{"field":"label"},
"size":{"condition":{"test":"datum.label == 'Applied filter: WWSSN-SP'","value":14.5},"value":16}
}}
],
"resolve":{"axis":{"x":"independent","y":"independent"}}
}
